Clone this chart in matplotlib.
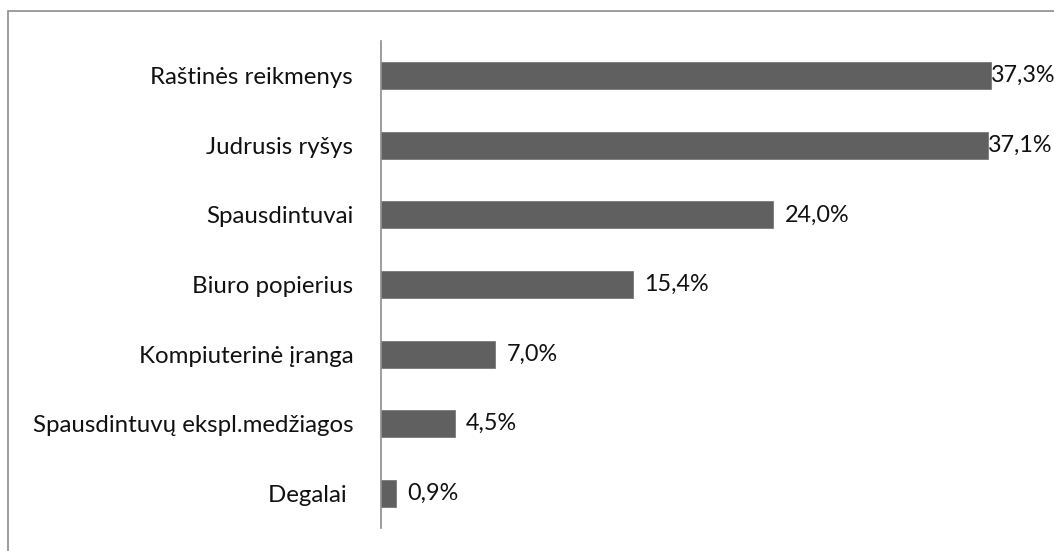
import matplotlib
matplotlib.use("Agg")
import matplotlib.pyplot as plt
from matplotlib.patches import Rectangle

plt.rcParams["font.family"] = ["Lato", "DejaVu Sans"]

categories = [
    "Raštinės reikmenys",
    "Judrusis ryšys",
    "Spausdintuvai",
    "Biuro popierius",
    "Kompiuterinė įranga",
    "Spausdintuvų ekspl.medžiagos",
    "Degalai ",
]
values = [37.3, 37.1, 24.0, 15.4, 7.0, 4.5, 0.9]
value_labels = ["37,3%", "37,1%", "24,0%", "15,4%", "7,0%", "4,5%", "0,9%"]

W, H = 1054, 551
fig = plt.figure(figsize=(W / 100, H / 100), dpi=100)

# outer frame (only top and left edges visible in the crop)
fig.patches.append(Rectangle((8 / W, -0.1), 1.2, 1 - 11 / H + 0.1,
                             transform=fig.transFigure, fill=False,
                             edgecolor="#8c8c8c", linewidth=1.2))

ax_left, ax_right = 381 / W, 1035 / W
ax_top, ax_bot = 1 - 41 / H, 1 - 528 / H
ax = fig.add_axes([ax_left, ax_bot, ax_right - ax_left, ax_top - ax_bot])

y = list(range(len(categories)))
ax.barh(y, values, height=0.39, color="#606060", edgecolor="#7a7a7a", linewidth=0.6)
ax.set_ylim(len(categories) - 0.5, -0.5)
ax.set_xlim(0, 40)

ax.set_yticks(y)
ax.set_yticklabels(categories, fontsize=17.3, color="#111111")
ax.tick_params(axis="y", length=0, pad=20)
ax.set_xticks([])

for s in ["top", "right", "bottom"]:
    ax.spines[s].set_visible(False)
ax.spines["left"].set_color("#8c8c8c")
ax.spines["left"].set_linewidth(1.2)

for i, (v, lab) in enumerate(zip(values, value_labels)):
    off = 0 if v > 30 else 8
    ax.annotate(lab, xy=(v, i), xytext=(off, 0), textcoords="offset points",
                va="center", ha="left", fontsize=16.8, color="#111111",
                annotation_clip=False)

fig.savefig("out.png", dpi=100)
